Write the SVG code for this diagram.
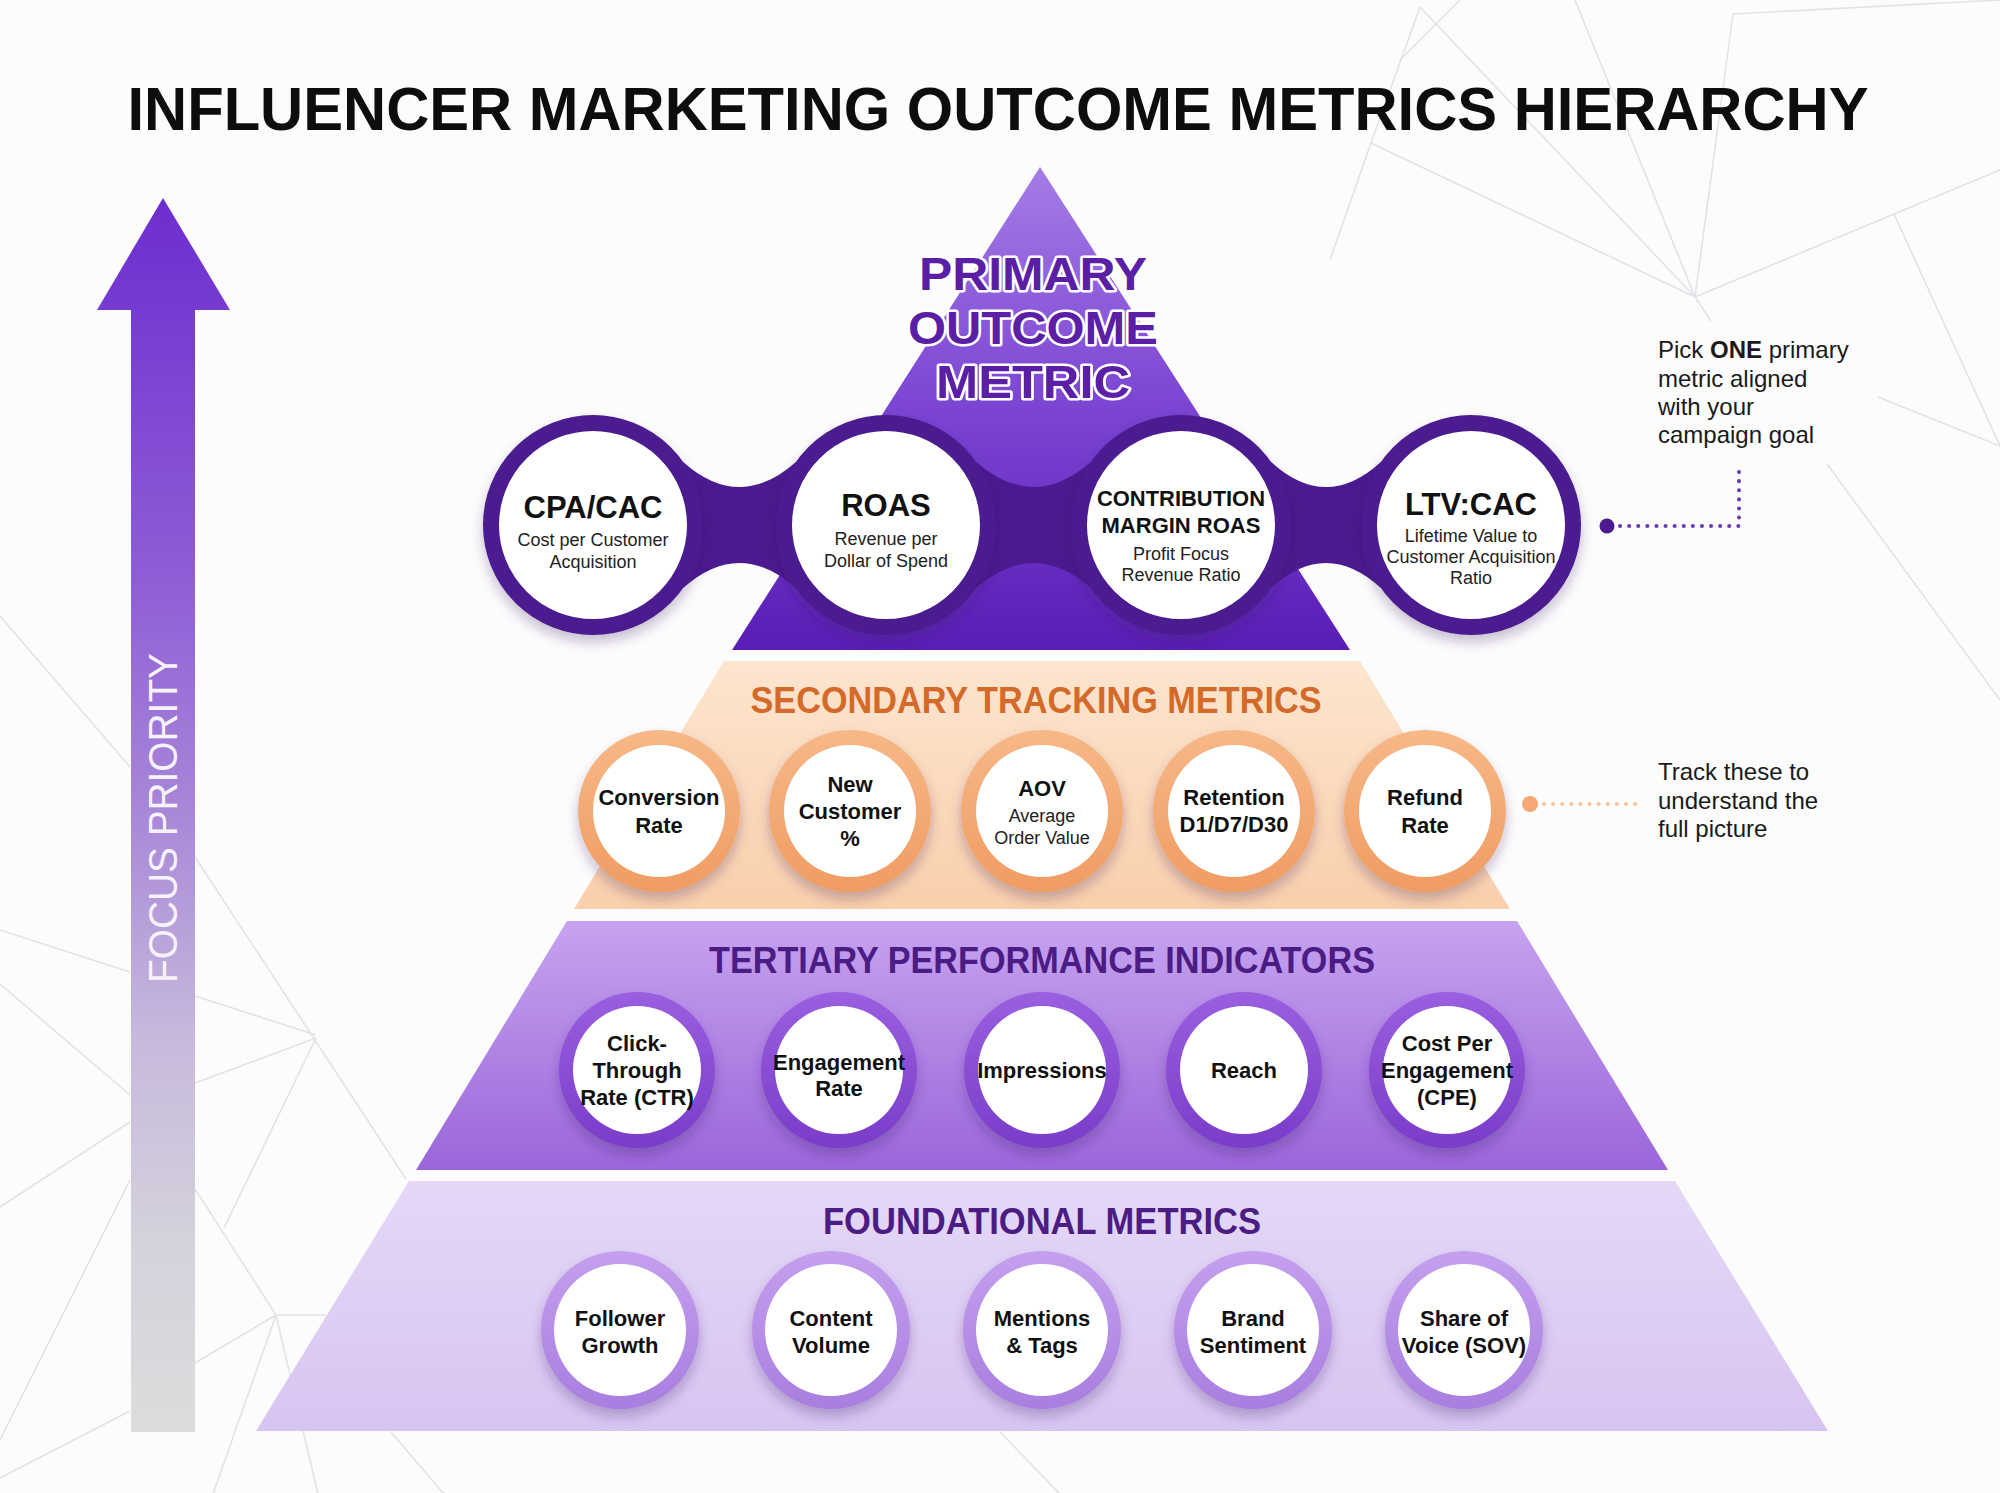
<svg xmlns="http://www.w3.org/2000/svg" width="2000" height="1493" viewBox="0 0 2000 1493">
<defs>
<style>
.bg{stroke:#e3e2e6;stroke-width:1.6;fill:none}
.h{font-family:"Liberation Sans",Arial,sans-serif;font-weight:bold;fill:#111;text-anchor:middle}
.pt{font-family:"Liberation Sans",Arial,sans-serif;font-weight:bold;font-size:31px;fill:#111;text-anchor:middle}
.ps{font-family:"Liberation Sans",Arial,sans-serif;font-size:18px;fill:#222;text-anchor:middle}
.lbl{font-family:"Liberation Sans",Arial,sans-serif;font-weight:bold;font-size:22px;fill:#111;text-anchor:middle}
.sub{font-family:"Liberation Sans",Arial,sans-serif;font-size:18px;fill:#222;text-anchor:middle}
.tier{font-family:"Liberation Sans",Arial,sans-serif;font-weight:bold;font-size:36px;text-anchor:middle}
.note{font-family:"Liberation Sans",Arial,sans-serif;font-size:24px;fill:#1a1a1a}
.ptitle{font-family:"Liberation Sans",Arial,sans-serif;font-weight:bold;font-size:46px;fill:#5b1fa6;stroke:#fff;stroke-width:5;stroke-linejoin:round;paint-order:stroke;text-anchor:middle}
.ring1{fill:#fff;stroke:#4b1a8f;stroke-width:16}
.band{fill:#4b1a8f}
.inner{fill:#fff}
</style>
<linearGradient id="gArrow" gradientUnits="userSpaceOnUse" x1="0" y1="198" x2="0" y2="1432">
<stop offset="0" stop-color="#6d2dcf"/>
<stop offset="0.3" stop-color="#8d5cd6"/>
<stop offset="0.5" stop-color="#a888d8"/>
<stop offset="0.68" stop-color="#c7b9dc"/>
<stop offset="0.85" stop-color="#d5d2dc"/>
<stop offset="1" stop-color="#dcdcdc"/>
</linearGradient>
<linearGradient id="gTop" gradientUnits="userSpaceOnUse" x1="0" y1="167" x2="0" y2="650">
<stop offset="0" stop-color="#a57ce6"/>
<stop offset="0.5" stop-color="#7b44d2"/>
<stop offset="1" stop-color="#5a1db5"/>
</linearGradient>
<linearGradient id="gSec" gradientUnits="userSpaceOnUse" x1="0" y1="661" x2="0" y2="909">
<stop offset="0" stop-color="#fde5cf"/>
<stop offset="1" stop-color="#f9cfab"/>
</linearGradient>
<linearGradient id="gTer" gradientUnits="userSpaceOnUse" x1="0" y1="921" x2="0" y2="1170">
<stop offset="0" stop-color="#c6a3ef"/>
<stop offset="1" stop-color="#9b66da"/>
</linearGradient>
<linearGradient id="gFou" gradientUnits="userSpaceOnUse" x1="0" y1="1181" x2="0" y2="1431">
<stop offset="0" stop-color="#e5d8f7"/>
<stop offset="1" stop-color="#d8c4f1"/>
</linearGradient>
<linearGradient id="gRingO" x1="0" y1="0" x2="0" y2="1">
<stop offset="0" stop-color="#f7b887"/>
<stop offset="1" stop-color="#ef9c62"/>
</linearGradient>
<linearGradient id="gRingT" x1="0" y1="0" x2="0" y2="1">
<stop offset="0" stop-color="#9a5fe0"/>
<stop offset="1" stop-color="#7a3cc9"/>
</linearGradient>
<linearGradient id="gRingF" x1="0" y1="0" x2="0" y2="1">
<stop offset="0" stop-color="#c4a0ee"/>
<stop offset="1" stop-color="#a87ee0"/>
</linearGradient>
<filter id="sh" x="-30%" y="-30%" width="160%" height="170%">
<feDropShadow dx="0" dy="7" stdDeviation="6" flood-color="#3a1a66" flood-opacity="0.28"/>
</filter>
</defs>

<rect width="2000" height="1493" fill="#fcfcfc"/>

<g id="background-lines">
<line class="bg" x1="1371" y1="143" x2="1695" y2="297"/>
<line class="bg" x1="1420" y1="7" x2="1695" y2="297"/>
<line class="bg" x1="1575" y1="0" x2="1695" y2="297"/>
<line class="bg" x1="1733" y1="14" x2="1695" y2="297"/>
<line class="bg" x1="1695" y1="297" x2="2000" y2="170"/>
<line class="bg" x1="1695" y1="297" x2="1711" y2="321"/>
<line class="bg" x1="1733" y1="14" x2="2000" y2="0"/>
<line class="bg" x1="1371" y1="143" x2="1420" y2="7"/>
<line class="bg" x1="1371" y1="143" x2="1330" y2="260"/>
<line class="bg" x1="1894" y1="214" x2="2000" y2="446"/>
<line class="bg" x1="1878" y1="397" x2="2000" y2="446"/>
<line class="bg" x1="1827" y1="464" x2="2000" y2="700"/>
<line class="bg" x1="1400" y1="60" x2="1460" y2="0"/>
<line class="bg" x1="0" y1="616" x2="130" y2="767"/>
<line class="bg" x1="195" y1="857" x2="406" y2="1179"/>
<line class="bg" x1="0" y1="930" x2="130" y2="972"/>
<line class="bg" x1="195" y1="996" x2="316" y2="1035"/>
<line class="bg" x1="195" y1="1083" x2="316" y2="1038"/>
<line class="bg" x1="0" y1="984" x2="130" y2="1095"/>
<line class="bg" x1="0" y1="1207" x2="130" y2="1122"/>
<line class="bg" x1="316" y1="1038" x2="224" y2="1228"/>
<line class="bg" x1="195" y1="1189" x2="276" y2="1315"/>
<line class="bg" x1="276" y1="1315" x2="326" y2="1315"/>
<line class="bg" x1="276" y1="1315" x2="213" y2="1494"/>
<line class="bg" x1="276" y1="1315" x2="318" y2="1494"/>
<line class="bg" x1="276" y1="1315" x2="195" y2="1363"/>
<line class="bg" x1="130" y1="1411" x2="0" y2="1478"/>
<line class="bg" x1="130" y1="1180" x2="0" y2="1440"/>
<line class="bg" x1="391" y1="1432" x2="444" y2="1494"/>
<line class="bg" x1="1000" y1="1432" x2="1060" y2="1494"/>
</g>

<g id="title">
<text x="998" y="130" font-family="'Liberation Sans',Arial,sans-serif" font-weight="bold" font-size="62" fill="#0d0d0d" text-anchor="middle" textLength="1741" lengthAdjust="spacingAndGlyphs">INFLUENCER MARKETING OUTCOME METRICS HIERARCHY</text>
</g>

<g id="focus-priority-arrow">
<path d="M163,198 L230,310 L195,310 L195,1432 L131,1432 L131,310 L97,310 Z" fill="url(#gArrow)"/>
<text transform="translate(177,818) rotate(-90)" x="0" y="0" font-family="'Liberation Sans',Arial,sans-serif" font-size="40" fill="#f6f2fb" text-anchor="middle" textLength="330" lengthAdjust="spacingAndGlyphs">FOCUS PRIORITY</text>
</g>

<g id="tier-primary">
<path d="M1040,167 L1350,650 L732,650 Z" fill="url(#gTop)"/>
<text class="ptitle" x="1033" y="290" textLength="228" lengthAdjust="spacingAndGlyphs">PRIMARY</text>
<text class="ptitle" x="1033" y="344" textLength="250" lengthAdjust="spacingAndGlyphs">OUTCOME</text>
<text class="ptitle" x="1033" y="398" textLength="194" lengthAdjust="spacingAndGlyphs">METRIC</text>
<path class="band" d="M683.1,461.9 Q739.5,512 795.9,461.9 L795.9,588.1 Q739.5,538 683.1,588.1 Z"/>
<path class="band" d="M976.1,461.9 Q1033.5,512 1090.9,461.9 L1090.9,588.1 Q1033.5,538 976.1,588.1 Z"/>
<path class="band" d="M1271.1,461.9 Q1326,512 1380.9,461.9 L1380.9,588.1 Q1326,538 1271.1,588.1 Z"/>
</g>

<g id="node-cpa-cac">
<circle class="ring1" cx="593" cy="525" r="102" filter="url(#sh)"/>
<text class="pt" x="593" y="518">CPA/CAC</text>
<text class="ps" x="593" y="546">Cost per Customer</text>
<text class="ps" x="593" y="568">Acquisition</text>
</g>
<g id="node-roas">
<circle class="ring1" cx="886" cy="525" r="102" filter="url(#sh)"/>
<text class="pt" x="886" y="516">ROAS</text>
<text class="ps" x="886" y="545">Revenue per</text>
<text class="ps" x="886" y="567">Dollar of Spend</text>
</g>
<g id="node-contribution-margin-roas">
<circle class="ring1" cx="1181" cy="525" r="102" filter="url(#sh)"/>
<text class="h" x="1181" y="506" font-size="22" textLength="168" lengthAdjust="spacingAndGlyphs">CONTRIBUTION</text>
<text class="h" x="1181" y="533" font-size="22">MARGIN ROAS</text>
<text class="ps" x="1181" y="560">Profit Focus</text>
<text class="ps" x="1181" y="581">Revenue Ratio</text>
</g>
<g id="node-ltv-cac">
<circle class="ring1" cx="1471" cy="525" r="102" filter="url(#sh)"/>
<text class="pt" x="1471" y="515">LTV:CAC</text>
<text class="ps" x="1471" y="542">Lifetime Value to</text>
<text class="ps" x="1471" y="563">Customer Acquisition</text>
<text class="ps" x="1471" y="584">Ratio</text>
</g>

<g id="tier-secondary">
<path d="M724,661 L1360,661 L1510,909 L574,909 Z" fill="url(#gSec)"/>
<text class="tier" x="1036" y="713" fill="#d46a2a" textLength="571" lengthAdjust="spacingAndGlyphs">SECONDARY TRACKING METRICS</text>
</g>
<g id="node-conversion-rate">
<circle cx="659" cy="811" r="81" fill="url(#gRingO)" filter="url(#sh)"/>
<circle class="inner" cx="659" cy="811" r="66"/>
<text class="lbl" x="659" y="805">Conversion</text>
<text class="lbl" x="659" y="833">Rate</text>
</g>
<g id="node-new-customer">
<circle cx="850" cy="811" r="81" fill="url(#gRingO)" filter="url(#sh)"/>
<circle class="inner" cx="850" cy="811" r="66"/>
<text class="lbl" x="850" y="792">New</text>
<text class="lbl" x="850" y="819">Customer</text>
<text class="lbl" x="850" y="846">%</text>
</g>
<g id="node-aov">
<circle cx="1042" cy="811" r="81" fill="url(#gRingO)" filter="url(#sh)"/>
<circle class="inner" cx="1042" cy="811" r="66"/>
<text class="lbl" x="1042" y="796">AOV</text>
<text class="sub" x="1042" y="822">Average</text>
<text class="sub" x="1042" y="844">Order Value</text>
</g>
<g id="node-retention">
<circle cx="1234" cy="811" r="81" fill="url(#gRingO)" filter="url(#sh)"/>
<circle class="inner" cx="1234" cy="811" r="66"/>
<text class="lbl" x="1234" y="805">Retention</text>
<text class="lbl" x="1234" y="832">D1/D7/D30</text>
</g>
<g id="node-refund-rate">
<circle cx="1425" cy="811" r="81" fill="url(#gRingO)" filter="url(#sh)"/>
<circle class="inner" cx="1425" cy="811" r="66"/>
<text class="lbl" x="1425" y="805">Refund</text>
<text class="lbl" x="1425" y="833">Rate</text>
</g>

<g id="tier-tertiary">
<path d="M567,921 L1517,921 L1668,1170 L416,1170 Z" fill="url(#gTer)"/>
<text class="tier" x="1042" y="973" fill="#4a1c84" textLength="666" lengthAdjust="spacingAndGlyphs">TERTIARY PERFORMANCE INDICATORS</text>
</g>
<g id="node-ctr">
<circle cx="637" cy="1070" r="78" fill="url(#gRingT)" filter="url(#sh)"/>
<circle class="inner" cx="637" cy="1070" r="64"/>
<text class="lbl" x="637" y="1051">Click-</text>
<text class="lbl" x="637" y="1078">Through</text>
<text class="lbl" x="637" y="1105">Rate (CTR)</text>
</g>
<g id="node-engagement-rate">
<circle cx="839" cy="1070" r="78" fill="url(#gRingT)" filter="url(#sh)"/>
<circle class="inner" cx="839" cy="1070" r="64"/>
<text class="lbl" x="839" y="1070">Engagement</text>
<text class="lbl" x="839" y="1096">Rate</text>
</g>
<g id="node-impressions">
<circle cx="1042" cy="1070" r="78" fill="url(#gRingT)" filter="url(#sh)"/>
<circle class="inner" cx="1042" cy="1070" r="64"/>
<text class="lbl" x="1042" y="1078">Impressions</text>
</g>
<g id="node-reach">
<circle cx="1244" cy="1070" r="78" fill="url(#gRingT)" filter="url(#sh)"/>
<circle class="inner" cx="1244" cy="1070" r="64"/>
<text class="lbl" x="1244" y="1078">Reach</text>
</g>
<g id="node-cpe">
<circle cx="1447" cy="1070" r="78" fill="url(#gRingT)" filter="url(#sh)"/>
<circle class="inner" cx="1447" cy="1070" r="64"/>
<text class="lbl" x="1447" y="1051">Cost Per</text>
<text class="lbl" x="1447" y="1078">Engagement</text>
<text class="lbl" x="1447" y="1105">(CPE)</text>
</g>

<g id="tier-foundational">
<path d="M409,1181 L1675,1181 L1828,1431 L256,1431 Z" fill="url(#gFou)"/>
<text class="tier" x="1042" y="1234" fill="#4a1c84" textLength="438" lengthAdjust="spacingAndGlyphs">FOUNDATIONAL METRICS</text>
</g>
<g id="node-follower-growth">
<circle cx="620" cy="1330" r="79" fill="url(#gRingF)" filter="url(#sh)"/>
<circle class="inner" cx="620" cy="1330" r="66"/>
<text class="lbl" x="620" y="1326">Follower</text>
<text class="lbl" x="620" y="1353">Growth</text>
</g>
<g id="node-content-volume">
<circle cx="831" cy="1330" r="79" fill="url(#gRingF)" filter="url(#sh)"/>
<circle class="inner" cx="831" cy="1330" r="66"/>
<text class="lbl" x="831" y="1326">Content</text>
<text class="lbl" x="831" y="1353">Volume</text>
</g>
<g id="node-mentions-tags">
<circle cx="1042" cy="1330" r="79" fill="url(#gRingF)" filter="url(#sh)"/>
<circle class="inner" cx="1042" cy="1330" r="66"/>
<text class="lbl" x="1042" y="1326">Mentions</text>
<text class="lbl" x="1042" y="1353">&amp; Tags</text>
</g>
<g id="node-brand-sentiment">
<circle cx="1253" cy="1330" r="79" fill="url(#gRingF)" filter="url(#sh)"/>
<circle class="inner" cx="1253" cy="1330" r="66"/>
<text class="lbl" x="1253" y="1326">Brand</text>
<text class="lbl" x="1253" y="1353">Sentiment</text>
</g>
<g id="node-share-of-voice">
<circle cx="1464" cy="1330" r="79" fill="url(#gRingF)" filter="url(#sh)"/>
<circle class="inner" cx="1464" cy="1330" r="66"/>
<text class="lbl" x="1464" y="1326">Share of</text>
<text class="lbl" x="1464" y="1353">Voice (SOV)</text>
</g>

<g id="connectors">
<circle cx="1607" cy="526" r="7.5" fill="#4b1a8f"/>
<path d="M1620,526 H1739 V466" fill="none" stroke="#6a3cb3" stroke-width="4" stroke-linecap="round" stroke-dasharray="0.1 9"/>
<circle cx="1530" cy="804" r="8" fill="#f5a874"/>
<path d="M1544,804 H1636" fill="none" stroke="#f7c39c" stroke-width="4" stroke-linecap="round" stroke-dasharray="0.1 9"/>
</g>

<g id="note-primary">
<text class="note" x="1658" y="358">Pick <tspan font-weight="bold">ONE</tspan> primary</text>
<text class="note" x="1658" y="387">metric aligned</text>
<text class="note" x="1658" y="415">with your</text>
<text class="note" x="1658" y="443">campaign goal</text>
</g>
<g id="note-secondary">
<text class="note" x="1658" y="780">Track these to</text>
<text class="note" x="1658" y="809">understand the</text>
<text class="note" x="1658" y="837">full picture</text>
</g>
</svg>
